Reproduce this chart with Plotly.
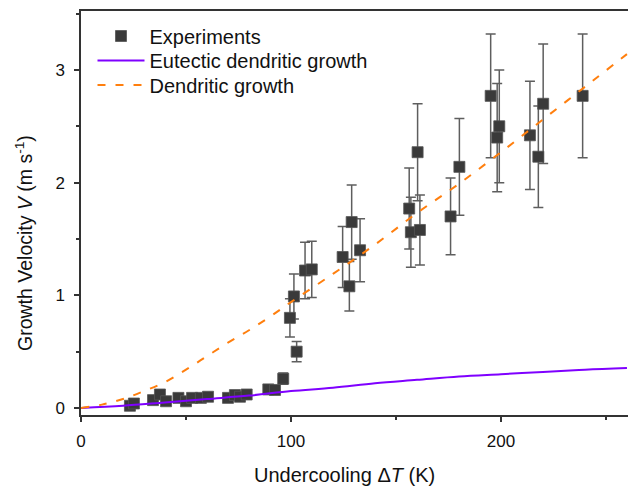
import plotly.graph_objects as go

# Experimental data (undercooling K, velocity m/s, error m/s)
exp_dT = [23.3, 25.2, 34.3, 37.6, 40.5, 46.4, 50.0, 52.9, 57.1, 60.5,
          70.0, 73.3, 75.7, 78.9, 89.2, 92.4, 96.3, 102.7,
          99.5, 101.4, 106.7, 109.9, 124.6, 127.8, 128.9, 132.9,
          156.3, 157.1, 160.3, 161.4, 176.0, 180.2,
          195.1, 198.2, 199.2, 213.8, 217.8, 220.1, 238.9]
exp_V = [0.02, 0.04, 0.07, 0.12, 0.06, 0.09, 0.06, 0.09, 0.09, 0.10,
         0.09, 0.115, 0.10, 0.12, 0.165, 0.16, 0.26, 0.50,
         0.80, 0.99, 1.22, 1.23, 1.34, 1.08, 1.65, 1.40,
         1.77, 1.56, 2.27, 1.58, 1.70, 2.14,
         2.77, 2.40, 2.50, 2.42, 2.23, 2.70, 2.77]
exp_err = [0, 0, 0, 0, 0, 0, 0, 0, 0, 0,
           0, 0, 0, 0, 0, 0, 0.05, 0.09,
           0.17, 0.20, 0.25, 0.25, 0.27, 0.22, 0.33, 0.28,
           0.36, 0.31, 0.43, 0.31, 0.34, 0.43,
           0.55, 0.48, 0.50, 0.48, 0.45, 0.53, 0.55]

# Model curves
eut_dT = [0, 20, 40, 60, 80, 100, 120, 140, 160, 180, 200, 220, 240, 260]
eut_V = [0, 0.02, 0.05, 0.08, 0.11, 0.15, 0.18, 0.22, 0.25, 0.28, 0.30, 0.32, 0.34, 0.355]

den_dT = [0, 10, 20, 30, 40, 50, 60, 70, 80, 90, 100, 120, 140, 160, 180, 200, 220, 240, 260]
den_V = [0, 0.03, 0.08, 0.15, 0.23, 0.34, 0.46, 0.58, 0.69, 0.81, 0.94, 1.19, 1.45,
         1.73, 1.99, 2.27, 2.56, 2.85, 3.14]

x_ticks = [0, 100, 200]
y_ticks = [0, 1, 2, 3]

FONT = "Liberation Sans, Arial, sans-serif"
W, H = 628, 487
# plot area in page pixels
PX0, PX1, PY0, PY1 = 81, 628, 11, 415
L, R, T, B = PX0, W - PX1, PY0, H - PY1
PW, PH = PX1 - PX0, PY1 - PY0


def px(vx):
    return (vx - PX0) / PW


def py(vy):
    return (PY1 - vy) / PH


fig = go.Figure()
fig.add_trace(go.Scatter(
    x=exp_dT, y=exp_V, mode="markers", name="Experiments", legend="legend",
    marker=dict(symbol="square", size=11, color="#3a3a3a",
                line=dict(color="#555555", width=0.8)),
    error_y=dict(type="data", array=exp_err, visible=True,
                 color="#5e5e5e", thickness=1.5, width=5),
))
fig.add_trace(go.Scatter(
    x=eut_dT, y=eut_V, mode="lines", name="Eutectic dendritic growth",
    legend="legend2",
    line=dict(color="#7f00ff", width=2, shape="spline"),
))
fig.add_trace(go.Scatter(
    x=den_dT, y=den_V, mode="lines", name="Dendritic growth",
    legend="legend3",
    line=dict(color="#ff7f0e", width=2, dash="8px,10px", shape="spline"),
))

axis_common = dict(
    showgrid=False, zeroline=False, showline=True, linecolor="#333333",
    linewidth=1.5, ticks="outside", ticklen=5, tickwidth=1.5,
    tickcolor="#333333", tickfont=dict(family=FONT, size=17, color="#111111"),
)
fig.update_xaxes(range=[0, 260.5], tickvals=x_ticks, mirror=True,
                 ticklabelstandoff=5,
                 minor=dict(dtick=50, ticks="outside", ticklen=3,
                            tickwidth=1.5, tickcolor="#333333"),
                 **axis_common)
fig.update_yaxes(range=[-0.062, 3.523], tickvals=y_ticks,
                 ticklabelstandoff=6,
                 minor=dict(dtick=0.5, ticks="outside", ticklen=3,
                            tickwidth=1.5, tickcolor="#333333"),
                 **axis_common)


def leg(center_y):
    return dict(x=px(92.5), y=py(center_y),
                xanchor="left", yanchor="middle",
                bgcolor="rgba(0,0,0,0)", itemwidth=47,
                font=dict(family=FONT, size=20, color="#111111"))


fig.update_layout(
    width=W, height=H,
    margin=dict(l=L, r=R, t=T, b=B, autoexpand=False),
    paper_bgcolor="white", plot_bgcolor="white",
    font=dict(family=FONT, color="#111111"),
    showlegend=True,
    legend=leg(36), legend2=leg(60.5), legend3=leg(85),
    annotations=[
        dict(text="Undercooling Δ<i>T</i> (K)", xref="paper", yref="paper",
             x=px(344), y=py(475), yanchor="middle",
             xanchor="center", showarrow=False,
             font=dict(family=FONT, size=20, color="#111111")),
        dict(text="Growth Velocity <i>V</i> (m s<sup>-1</sup>)", xref="paper",
             yref="paper", x=px(24), y=py(243),
             xanchor="center", yanchor="middle", textangle=-90, showarrow=False,
             font=dict(family=FONT, size=19.5, color="#111111")),
    ],
)

fig.write_html(
    "out.html",
    config={"displayModeBar": False},
    post_script="document.body.style.margin='0';"
                "document.documentElement.style.overflow='hidden';"
                "document.body.style.overflow='hidden';",
)
